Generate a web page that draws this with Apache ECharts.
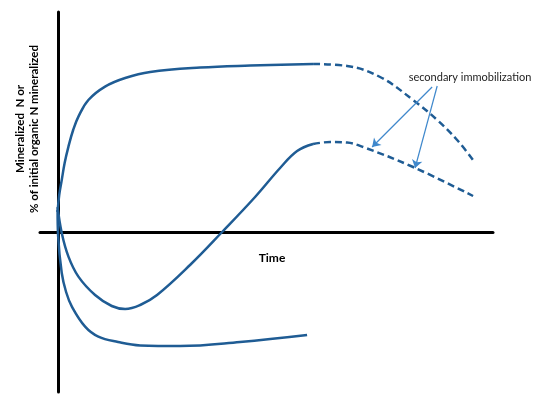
<!DOCTYPE html>
<html>
<head>
<meta charset="utf-8">
<script src="https://cdn.jsdelivr.net/npm/echarts@6/dist/echarts.min.js"></script>
<style>html,body{margin:0;padding:0;background:#fff}#c{width:550px;height:397px}</style>
</head>
<body>
<div id="c"></div>
<script>
// Conceptual curves (arbitrary units)
var topSolidX = [-0.03, 0.06, 0.2, 0.36, 0.57, 0.83, 1.12, 1.67, 2.59, 3.7, 5.08, 7.84, 10.6, 14.07];
var topSolidY = [1.0, 1.85, 2.6, 3.45, 4.27, 5.1, 5.77, 6.6, 7.27, 7.7, 8.0, 8.22, 8.32, 8.4];
var topDashX = [14.07, 15.95, 17.77, 19.59, 20.92, 22.02, 22.9];
var topDashY = [8.4, 8.3, 7.75, 6.6, 5.6, 4.6, 3.6];

var midSolidX = [-0.03, 0.2, 0.57, 1.12, 2.04, 2.96, 3.7, 4.53, 5.46, 7.28, 9.05, 10.87, 12.25, 13.19, 14.07];
var midSolidY = [1.25, -0.05, -1.23, -2.23, -3.15, -3.7, -3.85, -3.65, -3.15, -1.65, 0, 1.75, 3.2, 4.05, 4.4];
var midDashX = [14.07, 15.01, 15.95, 16.83, 19.59, 22.9];
var midDashY = [4.4, 4.5, 4.47, 4.25, 3.25, 1.8];

var lowX = [-0.03, 0.0, 0.2, 0.44, 0.76, 1.49, 2.22, 3.31, 4.53, 6.73, 10.04, 13.74];
var lowY = [1.1, -0.2, -2.05, -3.0, -3.73, -4.73, -5.23, -5.5, -5.67, -5.7, -5.5, -5.15];

// annotation arrows: [fromX, fromY, toX, toY]
var arrow1 = [20.64, 7.25, 17.33, 4.25];
var arrow2 = [20.92, 7.3, 19.7, 3.2];

var xLabel = 'Time';
var yLabel1 = 'Mineralized  N or';
var yLabel2 = '% of initial organic N mineralized';
var noteText = 'secondary immobilization';

function pairs(xs, ys) { return xs.map(function (x, i) { return [x, ys[i]]; }); }

var curveColor = '#1f5c94';
var arrowColor = '#3f88cc';
var fontFam = 'Lato, "Open Sans", sans-serif';

function lineSeries(xs, ys, dashed, extra) {
  var s = {
    type: 'line',
    data: pairs(xs, ys),
    smooth: 0.4,
    showSymbol: false,
    symbol: 'none',
    silent: true,
    animation: false,
    lineStyle: { color: curveColor, width: 2.5, type: dashed ? [7, 4] : 'solid' }
  };
  if (extra) for (var k in extra) s[k] = extra[k];
  return s;
}

var chart = echarts.init(document.getElementById('c'));
chart.setOption({
  backgroundColor: '#fff',
  animation: false,
  grid: { left: 40, right: 57, top: 12, bottom: 5 },
  xAxis: {
    type: 'value', min: -1, max: 24,
    axisLine: { onZero: true, lineStyle: { color: '#000', width: 3 } },
    axisTick: { show: false }, axisLabel: { show: false }, splitLine: { show: false }
  },
  yAxis: {
    type: 'value', min: -8, max: 11,
    axisLine: { onZero: true, lineStyle: { color: '#000', width: 3 } },
    axisTick: { show: false }, axisLabel: { show: false }, splitLine: { show: false }
  },
  graphic: [
    { type: 'text', x: 272, y: 258, style: { text: xLabel, font: 'bold 12px ' + fontFam, fill: '#000', align: 'center', verticalAlign: 'middle' } },
    { type: 'text', x: 20, y: 129, rotation: Math.PI / 2, style: { text: yLabel1, font: 'bold 11.5px ' + fontFam, fill: '#000', align: 'center', verticalAlign: 'middle' } },
    { type: 'text', x: 34, y: 129, rotation: Math.PI / 2, style: { text: yLabel2, font: 'bold 11.5px ' + fontFam, fill: '#000', align: 'center', verticalAlign: 'middle' } },
    { type: 'text', x: 470, y: 77, style: { text: noteText, font: '11px ' + fontFam, fill: '#222', align: 'center', verticalAlign: 'middle' } }
  ],
  series: [
    lineSeries(topSolidX, topSolidY, false),
    lineSeries(topDashX, topDashY, true),
    lineSeries(midSolidX, midSolidY, false),
    lineSeries(midDashX, midDashY, true, {
      markLine: {
        silent: true, animation: false,
        symbol: ['none', 'arrow'], symbolSize: 8,
        label: { show: false },
        lineStyle: { color: arrowColor, width: 1.2, type: 'solid' },
        data: [
          [{ coord: [arrow1[0], arrow1[1]] }, { coord: [arrow1[2], arrow1[3]] }],
          [{ coord: [arrow2[0], arrow2[1]] }, { coord: [arrow2[2], arrow2[3]] }]
        ]
      }
    }),
    lineSeries(lowX, lowY, false)
  ]
});
</script>
</body>
</html>
